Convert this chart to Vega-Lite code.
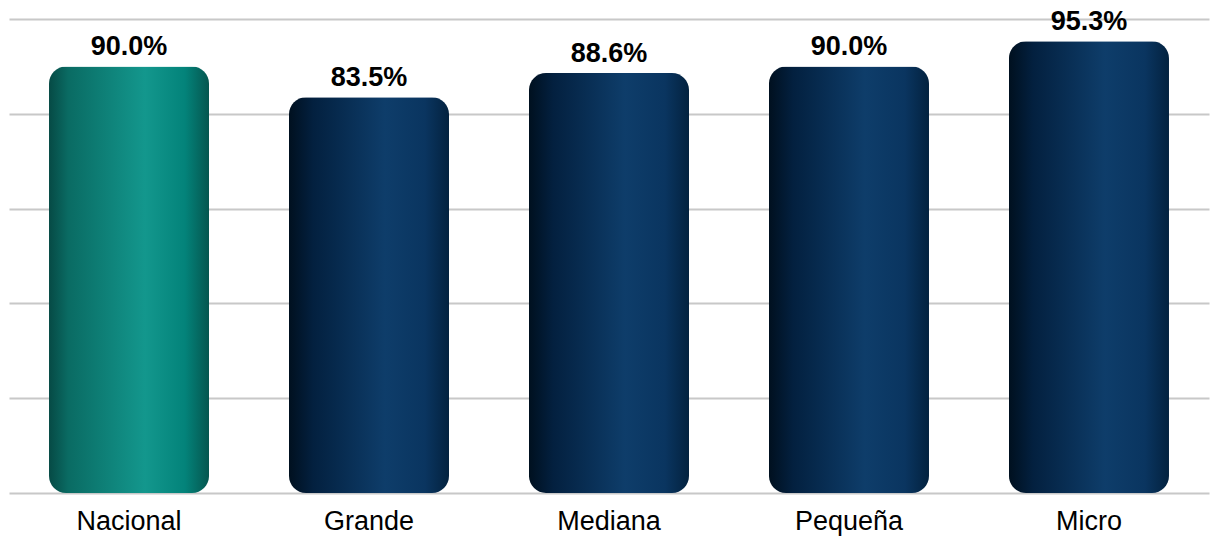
{
  "$schema": "https://vega.github.io/schema/vega-lite/v6.json",
  "width": 1200,
  "height": 474,
  "autosize": {"type": "none"},
  "padding": {"left": 9, "top": 19, "right": 1, "bottom": 44},
  "background": "white",
  "config": {"view": {"stroke": null}, "font": "Liberation Sans"},
  "data": {"values": [
    {"cat": "Nacional", "val": 90.0, "label": "90.0%"},
    {"cat": "Grande", "val": 83.5, "label": "83.5%"},
    {"cat": "Mediana", "val": 88.6, "label": "88.6%"},
    {"cat": "Pequeña", "val": 90.0, "label": "90.0%"},
    {"cat": "Micro", "val": 95.3, "label": "95.3%"}
  ]},
  "encoding": {
    "x": {"field": "cat", "type": "nominal", "sort": null,
      "scale": {"paddingInner": 0.3333, "paddingOuter": 0.1667},
      "axis": {"title": null, "domain": false, "ticks": false, "labelAngle": 0, "labelFontSize": 27, "labelColor": "#000", "labelPadding": 15, "labelFont": "Liberation Sans"}},
    "y": {"field": "val", "type": "quantitative",
      "scale": {"domain": [0, 100], "nice": false},
      "axis": {"title": null, "labels": false, "ticks": false, "domain": false, "grid": true, "values": [0, 20, 40, 60, 80, 100], "gridColor": "#c8c8c8", "gridWidth": 2}}
  },
  "layer": [
    {
      "transform": [{"filter": "datum.cat === 'Nacional'"}],
      "mark": {"type": "bar", "cornerRadius": 17,
        "color": {"gradient": "linear", "x1": 0, "y1": 0, "x2": 1, "y2": 0, "stops": [
          {"offset": 0, "color": "#064a45"},
          {"offset": 0.12, "color": "#0a6b63"},
          {"offset": 0.6, "color": "#13978d"},
          {"offset": 0.85, "color": "#03837a"},
          {"offset": 1, "color": "#05564f"}
        ]}}
    },
    {
      "transform": [{"filter": "datum.cat !== 'Nacional'"}],
      "mark": {"type": "bar", "cornerRadius": 17,
        "color": {"gradient": "linear", "x1": 0, "y1": 0, "x2": 1, "y2": 0, "stops": [
          {"offset": 0, "color": "#00101f"},
          {"offset": 0.15, "color": "#03203f"},
          {"offset": 0.6, "color": "#0e3d6a"},
          {"offset": 0.85, "color": "#0a3560"},
          {"offset": 1, "color": "#03223f"}
        ]}}
    },
    {
      "mark": {"type": "text", "baseline": "bottom", "dy": -5, "fontSize": 27, "fontWeight": "bold", "color": "#000", "font": "Liberation Sans"},
      "encoding": {"text": {"field": "label"}}
    }
  ]
}
